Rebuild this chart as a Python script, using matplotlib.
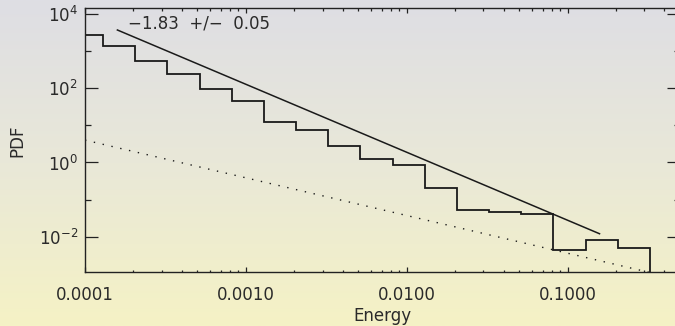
import numpy as np
import matplotlib
matplotlib.use('Agg')
import matplotlib.pyplot as plt
from matplotlib.colors import LinearSegmentedColormap
from matplotlib.ticker import NullFormatter

# histogram bin edges (energy) and pdf values
bin_edges = [8.17e-5, 1.294e-4, 2.051e-4, 3.251e-4, 5.152e-4, 8.166e-4,
             1.294e-3, 2.051e-3, 3.251e-3, 5.152e-3, 8.166e-3,
             1.294e-2, 2.051e-2, 3.251e-2, 5.152e-2, 8.166e-2,
             0.1294, 0.2051, 0.3251]
pdf_values = [2720, 1400, 541, 237, 93, 44, 12, 7.3, 2.8, 1.21, 0.85,
              0.21, 0.051, 0.045, 0.041, 0.0044, 0.0079, 0.005]

# power-law fit (solid) and reference slope (dotted), end points
fit_x = [1.59e-4, 0.158]
fit_y = [3710, 0.0120]
ref_x = [1e-4, 0.32]
ref_y = [4.0, 0.0011]
fit_label = "\u22121.83  +/\u2212  0.05"

xticks = [1e-4, 1e-3, 1e-2, 1e-1]
xtick_labels = ['0.0001', '0.0010', '0.0100', '0.1000']
yticks = [1e-2, 1, 1e2, 1e4]
ytick_labels = [r'$10^{-2}$', r'$10^{0}$', r'$10^{2}$', r'$10^{4}$']
yticks_minor = [1e-1, 1e1, 1e3]

W, H = 675, 326
fig = plt.figure(figsize=(W / 100, H / 100), dpi=100)

# background gradient
bg = fig.add_axes([0, 0, 1, 1], zorder=0)
grad = np.linspace(0, 1, 256).reshape(-1, 1)
cmap = LinearSegmentedColormap.from_list('bg', ['#dedee4', '#e9e8d8', '#f5f2c5'])
bg.imshow(grad, aspect='auto', cmap=cmap, extent=[0, 1, 0, 1], origin='upper')
bg.axis('off')

# main axes (right spine sits just past the image edge)
left, right, top, bottom = 85, 680, 8.3, 272.3
ax = fig.add_axes([left / W, (H - bottom) / H, (right - left) / W, (bottom - top) / H], zorder=1)
ax.patch.set_alpha(0)
ax.set_xscale('log')
ax.set_yscale('log')
ax.set_xlim(1e-4, 0.5)
ax.set_ylim(10 ** -2.96, 10 ** 4.154)

ink = '#1a1a1a'
txt = '#2a2a2a'
ax.stairs(pdf_values, bin_edges, baseline=1e-6, color=ink, lw=1.3)
ax.plot(fit_x, fit_y, color=ink, lw=1.1)
ax.plot(ref_x, ref_y, color=ink, lw=1.0, linestyle=(0, (1, 5.5)))

ax.text((128 - left) / (right - left), (H - 29 - (H - bottom)) / (bottom - top), fit_label,
        transform=ax.transAxes, fontsize=12, color=txt, va='baseline', ha='left')

# ticks
ax.set_xticks(xticks)
ax.set_xticklabels(xtick_labels)
ax.xaxis.set_minor_formatter(NullFormatter())
ax.set_yticks(yticks)
ax.set_yticklabels(ytick_labels)
ax.set_yticks(yticks_minor, minor=True)
ax.yaxis.set_minor_formatter(NullFormatter())

ax.tick_params(which='both', direction='in', top=True, right=True,
               colors='#222', labelcolor=txt, labelsize=12, width=0.9)
ax.tick_params(axis='x', which='major', length=3.6, pad=10)
ax.tick_params(axis='x', which='minor', length=1.8)
ax.tick_params(axis='y', which='major', length=9.4, pad=5)
ax.tick_params(axis='y', which='minor', length=4.3)
for s in ax.spines.values():
    s.set_color('#222')
    s.set_linewidth(1.0)

ax.set_xlabel('Energy', fontsize=12, color=txt)
ax.xaxis.label.set_va('center')
ax.xaxis.set_label_coords(0.5, (H - 315.7 - (H - bottom)) / (bottom - top))
ax.set_ylabel('PDF', fontsize=12, color=txt)
ax.yaxis.label.set_va('center')
ax.yaxis.set_label_coords((17 - left) / (right - left), 0.5)

fig.savefig('out.png', dpi=100)
